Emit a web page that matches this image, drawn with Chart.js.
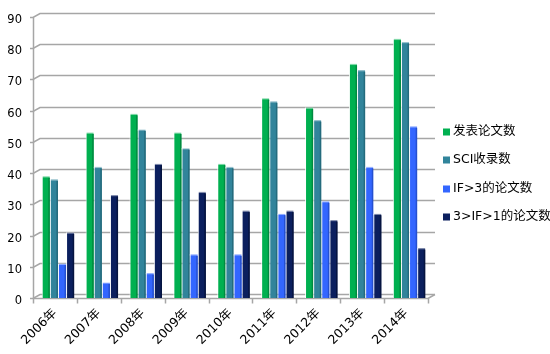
<!DOCTYPE html>
<html><head><meta charset="utf-8">
<script src="https://cdn.jsdelivr.net/npm/chart.js@4/dist/chart.umd.min.js"></script>
<style>html,body{margin:0;padding:0;background:#fff}#wrap{width:550px;height:354px}</style>
</head><body><div id="wrap"><canvas id="c"></canvas></div>
<script>
const categories = ['2006年','2007年','2008年','2009年','2010年','2011年','2012年','2013年','2014年'];
const published = [39,53,59,53,43,64,61,75,83];
const sciIndexed = [38,42,54,48,42,63,57,73,82];
const ifOver3 = [11,5,8,14,14,27,31,42,55];
const if1to3 = [21,33,43,34,28,28,25,27,16];
const yTicks = [0,10,20,30,40,50,60,70,80,90];

const FONT = "'DejaVu Sans','Noto Sans CJK SC',sans-serif";
const COLORS = ['#00B050','#31849B','#3366FF','#0B1F5E'];
const SIDE = ['#008a40','#246b7d','#2550d0','#061440'];

const gridPlugin = {
  id:'grid3d',
  beforeDatasetsDraw(chart){
    const {ctx, chartArea, scales:{x,y}} = chart;
    ctx.save();
    ctx.strokeStyle = '#a6a6a6';
    ctx.lineWidth = 1.5;
    const l = chartArea.left, r = chartArea.right;
    const dx = 7, dy = 4;
    yTicks.forEach(v=>{
      const py = Math.round(y.getPixelForValue(v))+0.5;
      ctx.beginPath();
      ctx.moveTo(l-3, py);
      ctx.lineTo(l, py);
      ctx.lineTo(l+dx, py-dy);
      ctx.lineTo(r+dx, py-dy);
      ctx.stroke();
    });
    const top = Math.round(y.getPixelForValue(90))+0.5, bot = Math.round(y.getPixelForValue(0))+0.5;
    ctx.beginPath();
    ctx.moveTo(l+0.5, top); ctx.lineTo(l+0.5, bot); ctx.stroke();
    ctx.beginPath();
    ctx.moveTo(l, bot); ctx.lineTo(r, bot); ctx.lineTo(r+dx, bot-dy); ctx.stroke();
    const cw = x.getPixelForValue(1)-x.getPixelForValue(0);
    for(let i=0;i<=categories.length;i++){
      const px = Math.round(x.getPixelForValue(0) - cw/2 + i*cw)+0.5;
      ctx.beginPath(); ctx.moveTo(px, bot); ctx.lineTo(px, bot+5); ctx.stroke();
    }
    ctx.restore();
    ctx.save();
    ctx.translate(3, 0);
  },
  afterDatasetsDraw(chart){
    const {ctx} = chart;
    chart.data.datasets.forEach((ds,di)=>{
      chart.getDatasetMeta(di).data.forEach(bar=>{
        const w = bar.width, xr = bar.x + w/2, yt = bar.y;
        ctx.fillStyle = SIDE[di];
        ctx.fillRect(xr-1.5, yt+1.5, 1.5, bar.base-yt-1.5);
        ctx.fillStyle = 'rgba(255,255,255,0.5)';
        ctx.fillRect(bar.x-w/2, yt, w, 1.2);
      });
    });
    ctx.restore();
    ctx.save();
    ctx.font = `12.5px ${FONT}`;
    ctx.textBaseline = 'middle';
    const lx = 443, ly = [132,160,189,217];
    chart.data.datasets.forEach((ds,di)=>{
      ctx.fillStyle = COLORS[di];
      ctx.fillRect(lx, ly[di]-3.5, 7, 7);
      ctx.fillStyle = '#000';
      ctx.fillText(ds.label, lx+10, ly[di]);
    });
    ctx.restore();
  }
};

new Chart(document.getElementById('c'), {
  type:'bar',
  data:{
    labels: categories,
    datasets:[
      {label:'发表论文数', data:published, backgroundColor:COLORS[0]},
      {label:'SCI收录数', data:sciIndexed, backgroundColor:COLORS[1]},
      {label:'IF>3的论文数', data:ifOver3, backgroundColor:COLORS[2]},
      {label:'3>IF>1的论文数', data:if1to3, backgroundColor:COLORS[3]}
    ]
  },
  options:{
    responsive:true, maintainAspectRatio:false, animation:false,
    layout:{padding:{left:0,top:17,right:122,bottom:0}},
    datasets:{bar:{categoryPercentage:0.74, barPercentage:1.0, borderColor:'rgba(255,255,255,0.9)', borderWidth:{left:1,right:0,top:0,bottom:0}}},
    plugins:{
      legend:{display:false},
      tooltip:{enabled:false}
    },
    scales:{
      x:{grid:{display:false}, border:{display:false},
         afterFit(s){ s.height = 56; },
         ticks:{minRotation:45, maxRotation:45, color:'#000', font:{family:FONT, size:12.5}, padding:0}},
      y:{min:0, max:90, grid:{display:false}, border:{display:false},
         afterFit(s){ s.width = 33; },
         afterBuildTicks(s){ s.ticks = yTicks.map(v=>({value:v})); },
         ticks:{color:'#000', font:{family:FONT, size:11.5}, padding:3, labelOffset:3}}
    }
  },
  plugins:[gridPlugin]
});
</script></body></html>
